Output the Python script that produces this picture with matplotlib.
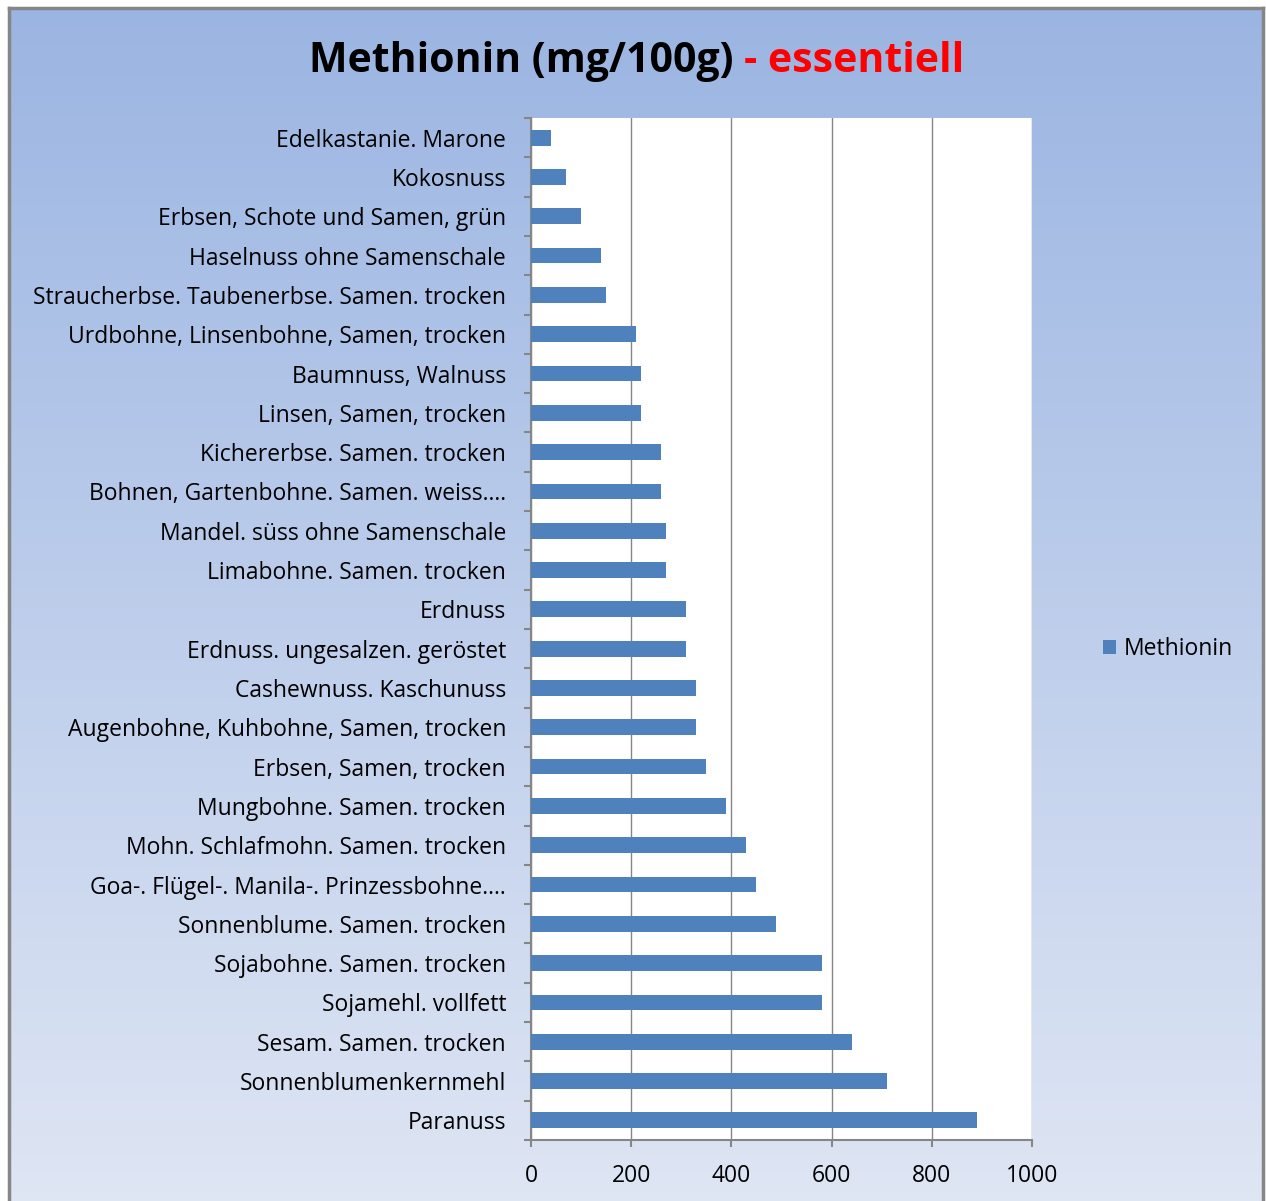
import matplotlib
matplotlib.use("Agg")
import matplotlib.pyplot as plt
import numpy as np

categories = [
    "Edelkastanie. Marone",
    "Kokosnuss",
    "Erbsen, Schote und Samen, grün",
    "Haselnuss ohne Samenschale",
    "Straucherbse. Taubenerbse. Samen. trocken",
    "Urdbohne, Linsenbohne, Samen, trocken",
    "Baumnuss, Walnuss",
    "Linsen, Samen, trocken",
    "Kichererbse. Samen. trocken",
    "Bohnen, Gartenbohne. Samen. weiss....",
    "Mandel. süss ohne Samenschale",
    "Limabohne. Samen. trocken",
    "Erdnuss",
    "Erdnuss. ungesalzen. geröstet",
    "Cashewnuss. Kaschunuss",
    "Augenbohne, Kuhbohne, Samen, trocken",
    "Erbsen, Samen, trocken",
    "Mungbohne. Samen. trocken",
    "Mohn. Schlafmohn. Samen. trocken",
    "Goa-. Flügel-. Manila-. Prinzessbohne....",
    "Sonnenblume. Samen. trocken",
    "Sojabohne. Samen. trocken",
    "Sojamehl. vollfett",
    "Sesam. Samen. trocken",
    "Sonnenblumenkernmehl",
    "Paranuss",
]
values = [40, 70, 100, 140, 150, 210, 220, 220, 260, 260, 270, 270, 310, 310,
          330, 330, 350, 390, 430, 450, 490, 580, 580, 640, 710, 890]
series_name = "Methionin"
x_ticks = [0, 200, 400, 600, 800, 1000]
title_black = "Methionin (mg/100g) "
title_red = "- essentiell"

W, H = 1266, 1201
fig = plt.figure(figsize=(W / 100, H / 100), dpi=100)
fig.patch.set_facecolor("white")

FONT = ["Open Sans", "DejaVu Sans"]
FS = 16.5

# background gradient frame
x0, y0, x1, y1 = 9, 8, 1263, 1210
bg = fig.add_axes([x0 / W, 1 - y1 / H, (x1 - x0) / W, (y1 - y0) / H])
top = np.array([0x9B, 0xB5, 0xE2]) / 255
bot = np.array([0xDF, 0xE6, 0xF4]) / 255
t = np.linspace(0, 1, 256)[:, None]
grad = top[None, :] * (1 - t) + bot[None, :] * t
bg.imshow(grad[:, None, :], aspect="auto", extent=[0, 1, 0, 1])
bg.set_xlim(0, 1); bg.set_ylim(0, 1)
bg.set_xticks([]); bg.set_yticks([])
for s in bg.spines.values():
    s.set_color("#868686")
    s.set_linewidth(2.5)

# plot area
L, R, T, B = 531, 1032, 118, 1140
ax = fig.add_axes([L / W, 1 - B / H, (R - L) / W, (B - T) / H])
ax.set_facecolor("white")
n = len(categories)
y = np.arange(n)
bars = ax.barh(y, values, height=0.4, color="#4F81BD", label=series_name, zorder=3)
ax.set_ylim(n - 0.5, -0.5)
ax.set_xlim(0, 1000)
ax.set_xticks(x_ticks)
ax.set_xticklabels([str(v) for v in x_ticks], fontsize=FS, family=FONT)
ax.set_yticks(y)
ax.set_yticklabels(categories, fontsize=FS, family=FONT)
ax.set_yticks(np.arange(n + 1) - 0.5, minor=True)
ax.tick_params(axis="y", which="major", length=0, pad=18)
ax.tick_params(axis="y", which="minor", length=5, color="#868686", width=1.5)
ax.tick_params(axis="x", which="major", length=5, color="#868686", width=1.5, pad=12)
ax.grid(axis="x", color="#868686", linewidth=1, zorder=0)
for side in ["top", "right"]:
    ax.spines[side].set_visible(False)
for side in ["left", "bottom"]:
    ax.spines[side].set_color("#868686")
    ax.spines[side].set_linewidth(1.5)

# legend
leg = fig.legend(handles=[bars], labels=[series_name], loc="center left",
                 bbox_to_anchor=(1082 / W, 1 - 649 / H), frameon=False,
                 prop={"family": FONT, "size": FS}, handlelength=0.6,
                 handleheight=0.6, handletextpad=0.3)

# title in two colours
fig.canvas.draw()
r = fig.canvas.get_renderer()
ty = 1 - 62 / H
tb = fig.text(0.5, ty, title_black, fontsize=29.5, fontweight="bold",
              family=FONT, color="black", va="center", ha="left")
tr = fig.text(0.5, ty, title_red, fontsize=29.5, fontweight="bold",
              family=FONT, color="#FF0000", va="center", ha="left")
wb = tb.get_window_extent(r).width
wr = tr.get_window_extent(r).width
start = 636.5 - (wb + wr) / 2
tb.set_x(start / W)
tr.set_x((start + wb) / W)

fig.savefig("out.png", dpi=100, facecolor="white")
